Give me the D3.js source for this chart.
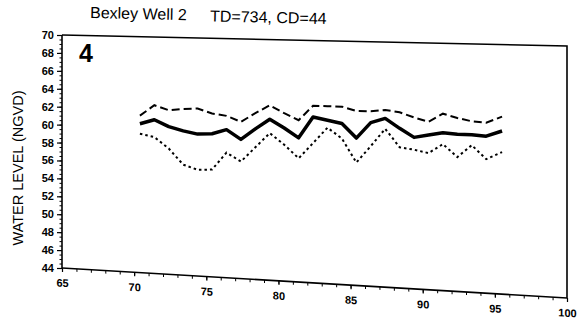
<!DOCTYPE html>
<html>
<head>
<meta charset="utf-8">
<script src="https://cdn.jsdelivr.net/npm/d3@7"></script>
<style>
  html, body { margin: 0; padding: 0; background: #fff; overflow: hidden; }
  svg { display: block; }
  text { font-family: "Liberation Sans", Arial, Helvetica, sans-serif; fill: #000; }
</style>
</head>
<body>
<script>
// ---- data ----
const years = [70.4, 71.4, 72.4, 73.4, 74.4, 75.4, 76.4, 77.4, 78.4, 79.4, 80.4, 81.4, 82.4,
               83.4, 84.4, 85.4, 86.4, 87.4, 88.4, 89.4, 90.4, 91.4, 92.4, 93.4, 94.4, 95.5];
const meanLevel = [60.4, 60.9, 60.2, 59.8, 59.5, 59.6, 60.1, 59.1, 60.3, 61.4, 60.5, 59.5, 61.8,
                   61.5, 61.2, 59.7, 61.4, 61.9, 60.9, 60.0, 60.3, 60.6, 60.5, 60.5, 60.4, 61.0];
const maxLevel  = [61.3, 62.5, 62.0, 62.2, 62.3, 61.8, 61.6, 61.0, 62.0, 62.9, 62.1, 61.4, 63.0,
                   63.0, 63.0, 62.6, 62.6, 62.8, 62.6, 62.1, 61.7, 62.6, 62.2, 61.9, 61.8, 62.5];
const minLevel  = [59.3, 59.0, 57.8, 56.1, 55.6, 55.7, 57.6, 56.7, 58.3, 59.9, 58.7, 57.3, 59.0,
                   60.7, 59.6, 57.1, 58.9, 60.8, 58.9, 58.7, 58.4, 59.4, 58.1, 59.4, 58.0, 58.8];
const xTicks = [65, 70, 75, 80, 85, 90, 95, 100];
const yTicks = [44, 46, 48, 50, 52, 54, 56, 58, 60, 62, 64, 66, 68, 70];
const titleText = "Bexley Well 2";
const infoText = "TD=734, CD=44";
const panelLabel = "4";
const yAxisTitle = "WATER LEVEL (NGVD)";

// ---- layout ----
const W = 582, H = 329;
const L = 62, R = 567, T = 35, B = 268;
const tiltTop = 11, tiltBottom = 30;   // scanned page is slightly skewed

const svg = d3.select("body").append("svg").attr("width", W).attr("height", H);

const x = d3.scaleLinear().domain([65, 100]).range([L, R]);
// y scale depends slightly on the horizontal position (scan skew)
function yAt(xv) {
  const u = (x(xv) - L) / (R - L);
  return d3.scaleLinear().domain([44, 70]).range([B + tiltBottom * u, T + tiltTop * u]);
}
const y = yAt(65);

// frame (top and right)
svg.append("path")
  .attr("d", `M${L},${T}L${R},${T + tiltTop}L${R},${B + tiltBottom}`)
  .attr("fill", "none").attr("stroke", "#000").attr("stroke-width", 1.6);

// y axis: minor ticks
svg.append("g").attr("transform", `translate(${L},0)`)
  .call(d3.axisLeft(y).tickValues(d3.range(44, 70.01, 0.5)).tickSize(2.5).tickFormat(""))
  .call(g => g.select(".domain").remove())
  .selectAll("line").attr("stroke-width", 1);
// y axis: major
const ya = svg.append("g").attr("transform", `translate(${L},0)`)
  .call(d3.axisLeft(y).tickValues(yTicks).tickSize(5).tickPadding(3).tickFormat(d3.format("d")));
ya.select(".domain").attr("stroke-width", 1.6).attr("d", `M0,${T}V${B}`);
ya.selectAll("line").attr("stroke-width", 1.2);
ya.selectAll("text").attr("font-size", 11).attr("font-weight", "bold");

// x axis (skewed like the scan)
const skewDeg = Math.atan(tiltBottom / (R - L)) * 180 / Math.PI;
const xg = svg.append("g")
  .attr("transform", `translate(${L},${B}) skewY(${skewDeg}) translate(${-L},0)`);
xg.append("g")
  .call(d3.axisBottom(x).tickValues(d3.range(65, 100.01, 1)).tickSize(3).tickFormat(""))
  .call(g => g.select(".domain").remove())
  .selectAll("line").attr("stroke-width", 1);
const xa = xg.append("g")
  .call(d3.axisBottom(x).tickValues(xTicks).tickSize(4).tickPadding(7).tickFormat(d3.format("d")));
xa.select(".domain").attr("stroke-width", 1.6).attr("d", `M${L},0H${R}`);
xa.selectAll("line").attr("stroke-width", 1.2);
xa.selectAll("text").attr("font-size", 11).attr("font-weight", "bold");

// series
const line = d3.line().x((d, i) => x(years[i])).y((d, i) => yAt(years[i])(d));
svg.append("path").datum(maxLevel).attr("d", line)
  .attr("fill", "none").attr("stroke", "#000").attr("stroke-width", 2)
  .attr("stroke-dasharray", "8,4");
svg.append("path").datum(minLevel).attr("d", line)
  .attr("fill", "none").attr("stroke", "#000").attr("stroke-width", 2)
  .attr("stroke-dasharray", "2.5,3");
svg.append("path").datum(meanLevel).attr("d", line)
  .attr("fill", "none").attr("stroke", "#000").attr("stroke-width", 3.5)
  .attr("stroke-linejoin", "round");

// texts
const rot = Math.atan(tiltTop / (R - L)) * 180 / Math.PI;
svg.append("text").attr("transform", `translate(90,18) rotate(${rot})`)
  .attr("font-size", 16).text(titleText);
svg.append("text").attr("transform", `translate(210,21.5) rotate(${rot})`)
  .attr("font-size", 16).text(infoText);
svg.append("text").attr("x", 79).attr("y", 62).attr("font-size", 25).attr("font-weight", "bold").text(panelLabel);
svg.append("text")
  .attr("transform", `translate(23,168) rotate(-90)`)
  .attr("text-anchor", "middle").attr("font-size", 14.5).text(yAxisTitle);
</script>
</body>
</html>
